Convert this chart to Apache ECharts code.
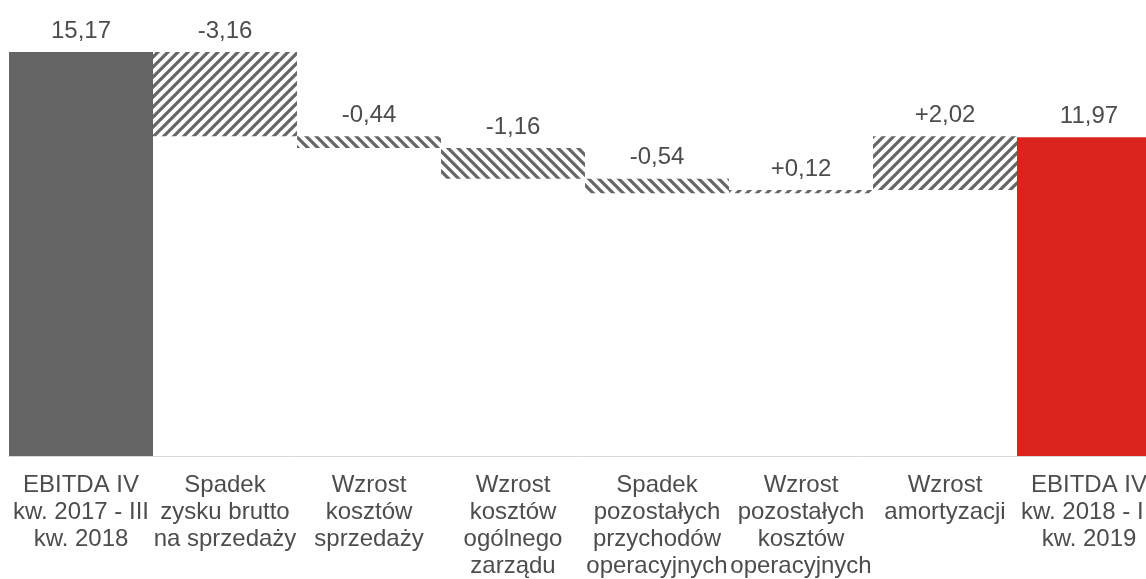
<!DOCTYPE html>
<html>
<head>
<meta charset="utf-8">
<script src="https://cdn.jsdelivr.net/npm/echarts@6/dist/echarts.min.js"></script>
<style>
  html, body { margin: 0; padding: 0; background: #fff; }
  #chart { width: 1146px; height: 579px; }
</style>
</head>
<body>
<div id="chart"></div>
<script>
// kategorie (z podziałem na linie jak w oryginale)
var categories = [
  "EBITDA IV\nkw. 2017 - III\nkw. 2018",
  "Spadek\nzysku brutto\nna sprzedaży",
  "Wzrost\nkosztów\nsprzedaży",
  "Wzrost\nkosztów\nogólnego\nzarządu",
  "Spadek\npozostałych\nprzychodów\noperacyjnych",
  "Wzrost\npozostałych\nkosztów\noperacyjnych",
  "Wzrost\namortyzacji",
  "EBITDA IV\nkw. 2018 - III\nkw. 2019"
];
// wartości: pierwsza i ostatnia to sumy, pozostałe to zmiany
var values = [15.17, -3.16, -0.44, -1.16, -0.54, 0.12, 2.02, 11.97];
var isTotal = [true, false, false, false, false, false, false, true];
// etykiety nad słupkami
var valueLabels = ["15,17", "-3,16", "-0,44", "-1,16", "-0,54", "+0,12", "+2,02", "11,97"];

// wzór kreskowania
function hatch(forward) {
  var s = 10;
  var c = document.createElement("canvas");
  c.width = s; c.height = s;
  var ctx = c.getContext("2d");
  ctx.fillStyle = "#fff";
  ctx.fillRect(0, 0, s, s);
  ctx.strokeStyle = "#666666";
  ctx.lineWidth = 3.2;
  ctx.beginPath();
  if (forward) {
    ctx.moveTo(-s, s * 2); ctx.lineTo(s * 2, -s);
    ctx.moveTo(-s, s); ctx.lineTo(s, -s);
    ctx.moveTo(0, s * 2); ctx.lineTo(s * 2, 0);
  } else {
    ctx.moveTo(-s, -s); ctx.lineTo(s * 2, s * 2);
    ctx.moveTo(-s, 0); ctx.lineTo(s, s * 2);
    ctx.moveTo(0, -s); ctx.lineTo(s * 2, s);
  }
  ctx.stroke();
  return { image: c, repeat: "repeat" };
}
var fwd = hatch(true);
var back = hatch(false);

// budowa danych waterfall
var baseData = [];
var barData = [];
var level = 0;
values.forEach(function (v, i) {
  if (isTotal[i]) {
    baseData.push(0);
    level = v;
    barData.push({
      value: v,
      itemStyle: { color: i === 0 ? "#646464" : "#d9251d" },
      label: { formatter: valueLabels[i] }
    });
  } else {
    var from = level;
    level = level + v;
    baseData.push(Math.min(from, level));
    // -3,16 oraz wzrosty: ukośnik "/", pozostałe spadki "\"
    var pattern = (v > 0 || i === 1) ? fwd : back;
    barData.push({
      value: Math.abs(v),
      itemStyle: { color: pattern },
      label: { formatter: valueLabels[i] }
    });
  }
});

var myChart = echarts.init(document.getElementById("chart"));
var option = {
  animation: false,
  grid: {
    left: 9,
    width: 1152,
    top: 30,
    bottom: 123,
    outerBoundsMode: "none"
  },
  xAxis: {
    type: "category",
    data: categories,
    axisLine: { lineStyle: { color: "#d9d9d9", width: 1 } },
    axisTick: { show: false },
    axisLabel: {
      interval: 0,
      margin: 16,
      color: "#4d4d4d",
      fontSize: 24,
      lineHeight: 27,
      fontFamily: "Liberation Sans, Arial, sans-serif"
    }
  },
  yAxis: {
    type: "value",
    min: 0,
    max: 16,
    show: false,
    splitLine: { show: false }
  },
  series: [
    {
      type: "bar",
      stack: "w",
      data: baseData,
      barWidth: "100%",
      itemStyle: { color: "transparent" },
      silent: true
    },
    {
      type: "bar",
      stack: "w",
      data: barData,
      barWidth: "100%",
      label: {
        show: true,
        position: "top",
        distance: 9,
        color: "#4d4d4d",
        fontSize: 24,
        fontFamily: "Liberation Sans, Arial, sans-serif"
      }
    }
  ]
};
myChart.setOption(option);
</script>
</body>
</html>
